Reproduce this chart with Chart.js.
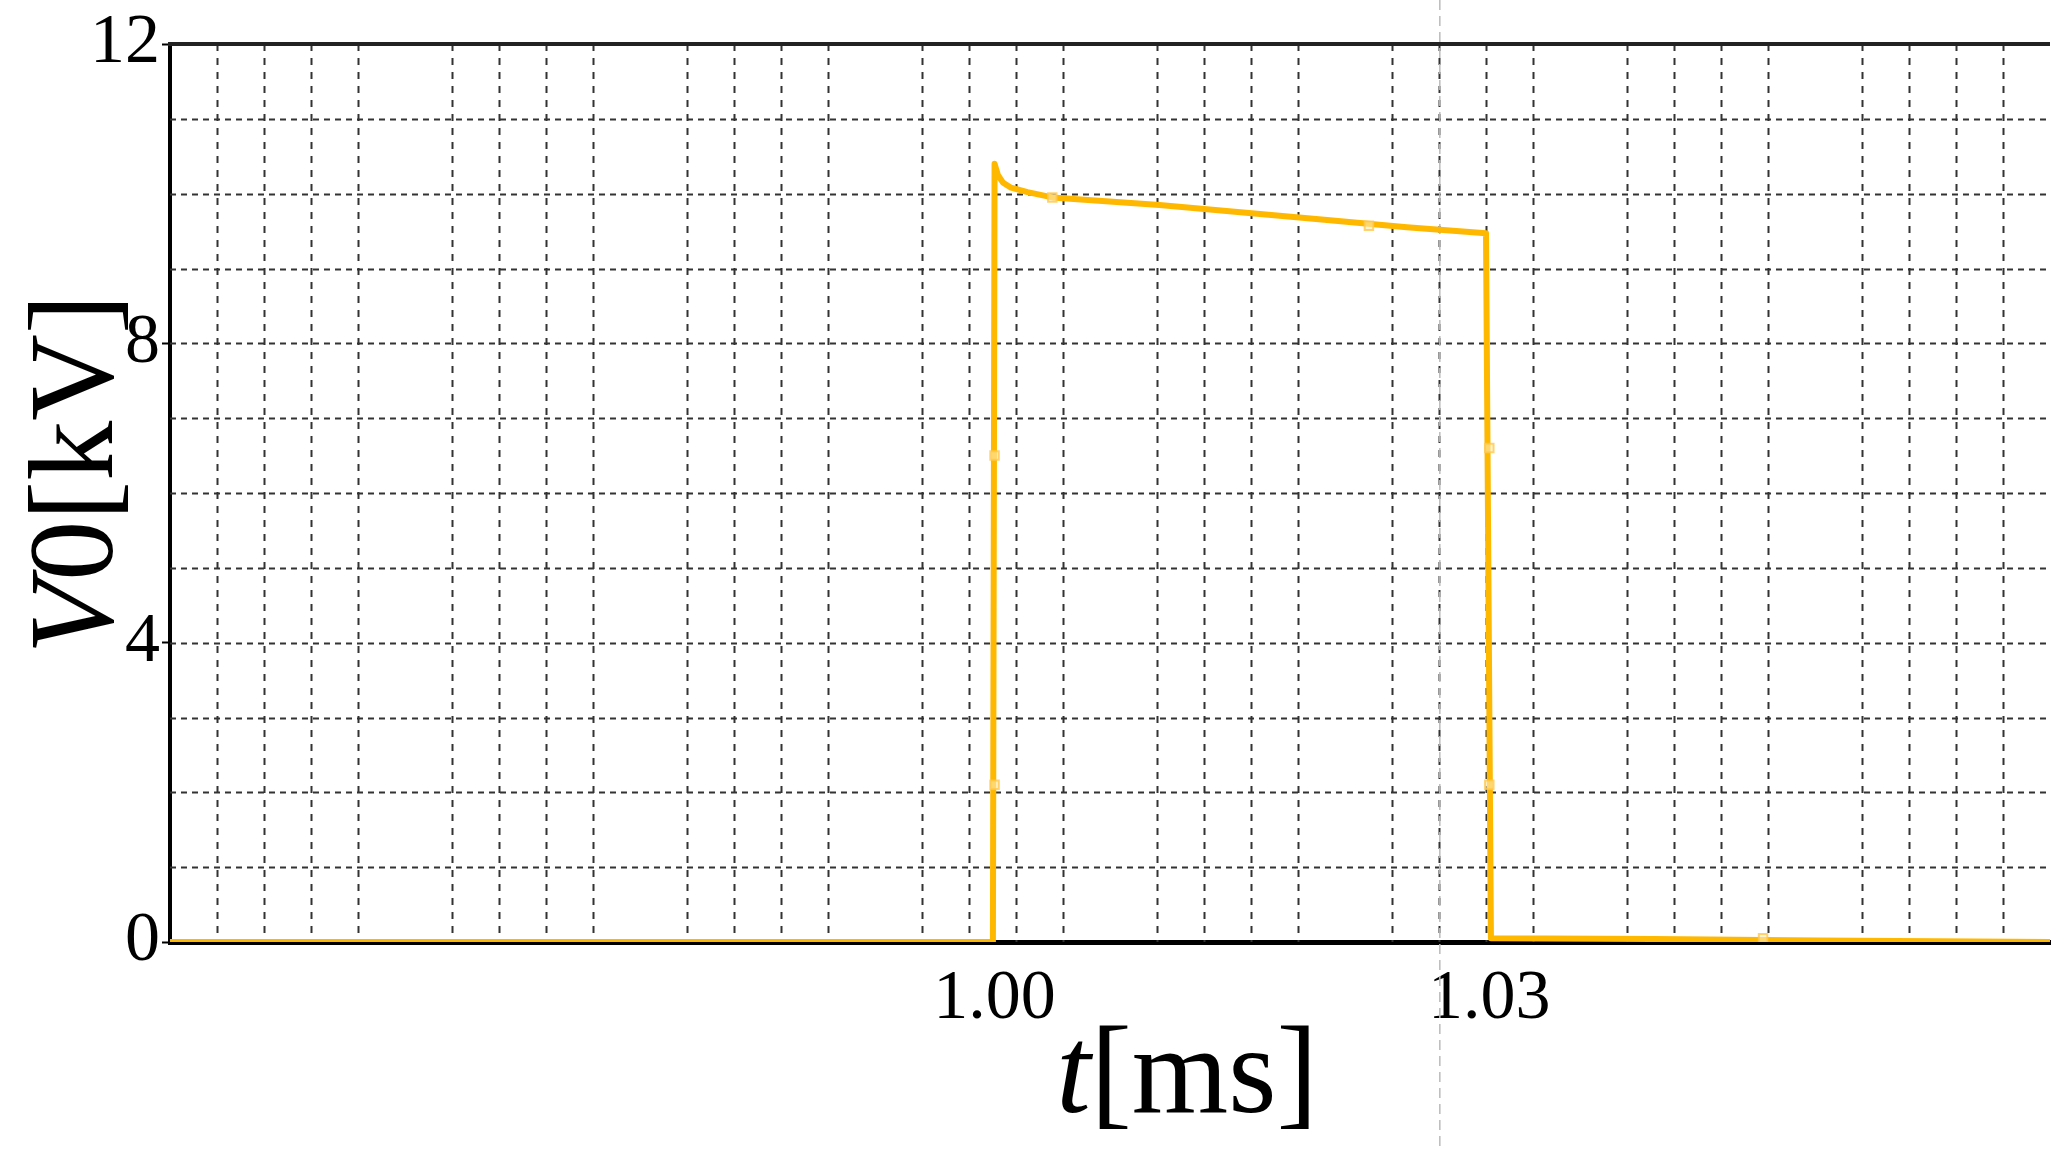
<!DOCTYPE html>
<html>
<head>
<meta charset="utf-8">
<script src="https://cdn.jsdelivr.net/npm/chart.js@4.4.0/dist/chart.umd.min.js"></script>
<style>
  html, body { margin: 0; padding: 0; background: #fff; }
  #wrap { width: 2071px; height: 1174px; }
</style>
</head>
<body>
<div id="wrap"><canvas id="c" width="2071" height="1174"></canvas></div>
<script>
// pulse waveform V0 [kV] vs t [ms]
var timeMs = [0.95, 0.9999, 1.0, 1.0002, 1.0005, 1.001, 1.002, 1.0035, 1.01, 1.02, 1.025, 1.0298, 1.0301, 1.04, 1.05, 1.064];
var voltKV = [0.0, 0.0, 10.4, 10.25, 10.15, 10.08, 10.02, 9.95, 9.85, 9.65, 9.55, 9.47, 0.05, 0.04, 0.02, 0.0];

// small square markers on the trace
var markerT = [1.0, 1.0, 1.0035, 1.0227, 1.03, 1.03, 1.0466];
var markerV = [6.5, 2.1, 9.95, 9.57, 6.6, 2.1, 0.05];

var xLabels = [1.00, 1.03];
var yLabels = [0, 4, 8, 12];
var xMin = 0.95, xMax = 1.064, gridStep = 0.00285;
var guideT = 1.027; // thin grey guide line

var serif = '"Liberation Serif", "DejaVu Serif", serif';

function pts(xs, ys) {
    var out = [];
    for (var i = 0; i < xs.length; i++) out.push({x: xs[i], y: ys[i]});
    return out;
}

var extras = {
    id: 'extras',
    beforeDatasetsDraw: function(chart) {
        var ctx = chart.ctx, x = chart.scales.x, y = chart.scales.y, a = chart.chartArea;
        ctx.save();
        // dashed grid
        ctx.strokeStyle = '#333';
        ctx.lineWidth = 2;
        ctx.setLineDash([7, 7]);
        for (var i = 1; xMin + i * gridStep < xMax - 0.001; i++) {
            if (i % 5 === 0) continue;
            var px = Math.round(x.getPixelForValue(xMin + i * gridStep)) + 0.5;
            ctx.beginPath();
            ctx.moveTo(px, a.top);
            ctx.lineTo(px, a.bottom);
            ctx.stroke();
        }
        ctx.setLineDash([6, 5]);
        for (var v = 1; v < 12; v++) {
            var py = Math.round(y.getPixelForValue(v)) + 0.5;
            ctx.beginPath();
            ctx.moveTo(a.left, py);
            ctx.lineTo(a.right, py);
            ctx.stroke();
        }
        // top border
        ctx.setLineDash([]);
        ctx.strokeStyle = '#222';
        ctx.lineWidth = 4;
        ctx.beginPath();
        ctx.moveTo(a.left - 2, a.top);
        ctx.lineTo(a.right, a.top);
        ctx.stroke();
        // guide line
        var gx = x.getPixelForValue(guideT);
        ctx.strokeStyle = '#bbb';
        ctx.lineWidth = 1.5;
        ctx.setLineDash([10, 6]);
        ctx.beginPath();
        ctx.moveTo(gx, 0);
        ctx.lineTo(gx, 1150);
        ctx.stroke();
        ctx.restore();
    },
    afterDraw: function(chart) {
        var ctx = chart.ctx;
        ctx.save();
        ctx.fillStyle = '#000';
        ctx.textBaseline = 'alphabetic';
        // x title
        ctx.font = 'italic 124px ' + serif;
        var w1 = ctx.measureText('t').width;
        ctx.font = '124px ' + serif;
        var w2 = ctx.measureText('[ms]').width;
        var sx = 1187 - (w1 + w2) / 2;
        ctx.font = 'italic 124px ' + serif;
        ctx.fillText('t', sx, 1112);
        ctx.font = '124px ' + serif;
        ctx.fillText('[ms]', sx + w1, 1112);
        // y title
        ctx.translate(112, 474);
        ctx.rotate(-Math.PI / 2);
        ctx.font = 'italic 120px ' + serif;
        var v1 = ctx.measureText('V').width;
        ctx.font = '120px ' + serif;
        var v2 = ctx.measureText('0[kV]').width;
        var sy = -(v1 + v2) / 2;
        ctx.font = 'italic 120px ' + serif;
        ctx.fillText('V', sy, 0);
        ctx.font = '120px ' + serif;
        ctx.fillText('0[kV]', sy + v1, 0);
        ctx.restore();
    }
};

new Chart(document.getElementById('c'), {
    type: 'line',
    data: {
        datasets: [{
            data: pts(timeMs, voltKV),
            borderColor: '#FFB800',
            borderWidth: 6,
            borderJoinStyle: 'round',
            pointRadius: 0,
            tension: 0,
            order: 1
        }, {
            data: pts(markerT, markerV),
            showLine: false,
            pointStyle: 'rect',
            pointRadius: 6,
            borderColor: 'rgba(255,200,80,0.8)',
            backgroundColor: 'rgba(255,235,180,0.6)',
            borderWidth: 2,
            order: 0
        }]
    },
    plugins: [extras],
    options: {
        responsive: false,
        animation: false,
        layout: { padding: { left: 0, right: 21, top: 43, bottom: 0 } },
        plugins: { legend: { display: false }, tooltip: { enabled: false } },
        scales: {
            x: {
                type: 'linear',
                min: xMin,
                max: xMax,
                afterBuildTicks: function(s) {
                    s.ticks = xLabels.map(function(v) { return {value: v}; });
                },
                afterFit: function(s) { s.height = 1174 - 942; },
                ticks: {
                    autoSkip: false,
                    maxRotation: 0,
                    padding: 8,
                    color: '#000',
                    font: { family: serif, size: 70 },
                    callback: function(v) { return Number(v).toFixed(2); }
                },
                grid: { display: false },
                border: { display: true, color: '#000', width: 5 }
            },
            y: {
                min: 0,
                max: 12,
                afterFit: function(s) { s.width = 170; },
                afterBuildTicks: function(s) {
                    s.ticks = yLabels.map(function(v) { return {value: v}; });
                },
                ticks: {
                    padding: 2,
                    color: '#000',
                    font: { family: serif, size: 70 }
                },
                grid: {
                    drawOnChartArea: false,
                    drawTicks: true,
                    tickLength: 8,
                    tickWidth: 2,
                    tickColor: '#000'
                },
                border: { display: true, color: '#000', width: 4 }
            }
        }
    }
});
</script>
</body>
</html>
